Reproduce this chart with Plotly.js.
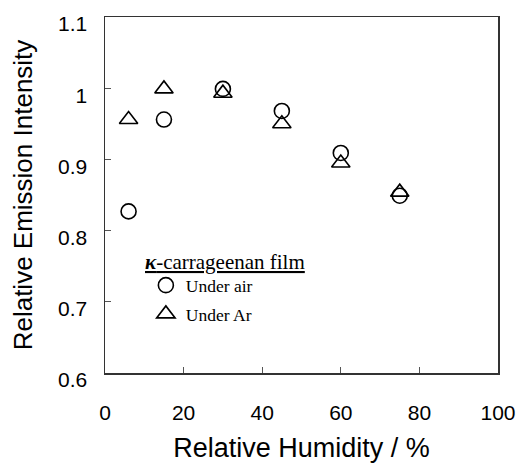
<!DOCTYPE html>
<html>
<head>
<meta charset="utf-8">
<script src="https://cdn.plot.ly/plotly-3.0.1.min.js"></script>
<style>html,body{margin:0;padding:0;background:#fff;}#chart{width:517px;height:463px;}</style>
</head>
<body>
<div id="chart"></div>
<script>
// Data
const humidity = [6, 15, 30, 45, 60, 75];
const underAir = [0.827, 0.956, 0.999, 0.968, 0.909, 0.849];
const underAr  = [0.956, 0.999, 0.993, 0.950, 0.895, 0.854];
const seriesNames = ['Under air', 'Under Ar'];
const legendTitle = '<b><i>\u03BA</i></b>-carrageenan film';
const xTicks = [0, 20, 40, 60, 80, 100];
const yTicks = [0.6, 0.7, 0.8, 0.9, 1.0, 1.1];
const yTickText = ['0.6', '0.7', '0.8', '0.9', '1', '1.1'];

const sans = '"Liberation Sans", Arial, Helvetica, sans-serif';
const serif = '"Liberation Serif", "Times New Roman", serif';

const traces = [
  {x: humidity, y: underAir, name: seriesNames[0], type: 'scatter', mode: 'markers',
   legendgroup: 'a',
   marker: {symbol: 'circle-open', size: 15, color: '#000', line: {width: 1.6, color: '#000'}}},
  {x: humidity, y: underAr, name: seriesNames[1], type: 'scatter', mode: 'markers',
   legendgroup: 'b',
   marker: {symbol: 'triangle-up-open', size: 16, color: '#000', line: {width: 1.6, color: '#000'}}}
];

const axisCommon = {
  showline: true, mirror: true, linecolor: '#333', linewidth: 1.5,
  ticks: 'inside', ticklen: 6, tickwidth: 1, tickcolor: '#555',
  showgrid: false, zeroline: false, fixedrange: true,
  ticklabeloverflow: 'allow',
  tickfont: {family: sans, size: 21, color: '#000'}
};

const layout = {
  width: 517, height: 463,
  margin: {l: 105, r: 19, t: 17, b: 90},
  paper_bgcolor: '#fff', plot_bgcolor: '#fff',
  showlegend: true,
  legend: {
    x: 0.104, y: 0.297, xanchor: 'left', yanchor: 'top',
    bgcolor: 'rgba(0,0,0,0)', borderwidth: 0,
    font: {family: serif, size: 17.5, color: '#000'},
    tracegroupgap: 3
  },
  annotations: [{
    xref: 'paper', yref: 'paper', x: 0.0967, y: 0.312, xanchor: 'left', yanchor: 'middle',
    showarrow: false, text: '<u>' + legendTitle + '</u>',
    font: {family: serif, size: 21, color: '#000'}
  }],
  xaxis: Object.assign({}, axisCommon, {
    range: [0, 100], tickvals: xTicks, ticklabelstandoff: 20,
    title: {text: 'Relative Humidity / %', font: {family: sans, size: 27, color: '#000'}, standoff: 16}
  }),
  yaxis: Object.assign({}, axisCommon, {
    range: [0.6, 1.1], tickvals: yTicks, ticktext: yTickText, ticklabelstandoff: 12, ticklabelshift: 7,
    title: {text: 'Relative Emission Intensity', font: {family: sans, size: 26, color: '#000'}, standoff: 18}
  })
};

Plotly.newPlot('chart', traces, layout, {displayModeBar: false, staticPlot: true});
</script>
</body>
</html>
